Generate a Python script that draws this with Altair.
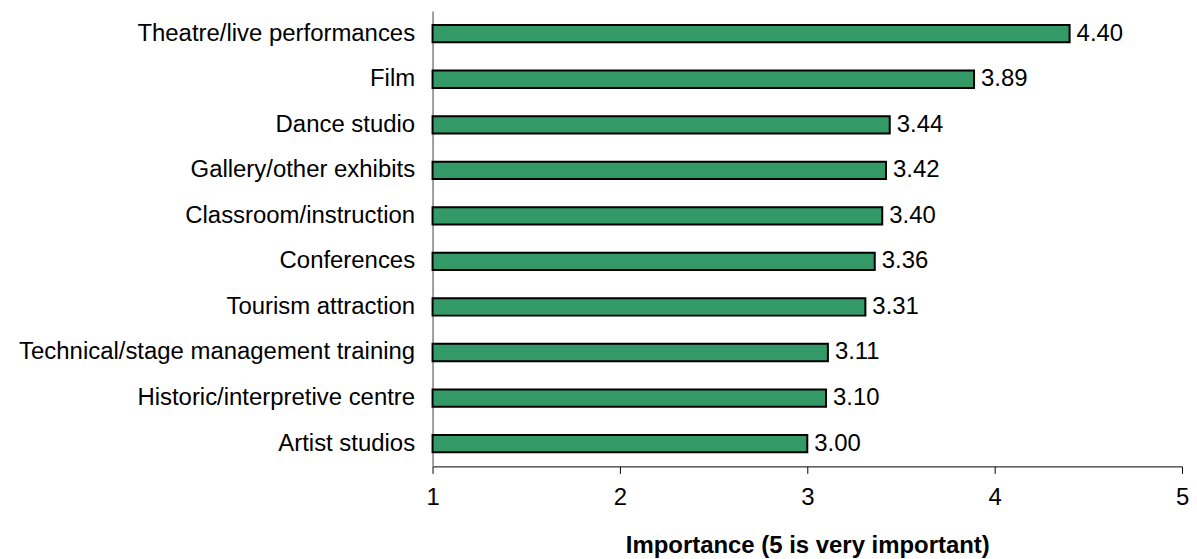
import altair as alt
import pandas as pd

categories = [
    "Theatre/live performances",
    "Film",
    "Dance studio",
    "Gallery/other exhibits",
    "Classroom/instruction",
    "Conferences",
    "Tourism attraction",
    "Technical/stage management training",
    "Historic/interpretive centre",
    "Artist studios",
]
values = [4.40, 3.89, 3.44, 3.42, 3.40, 3.36, 3.31, 3.11, 3.10, 3.00]
x_ticks = [1, 2, 3, 4, 5]

df = pd.DataFrame({"cat": categories, "val": values})
df["label"] = df["val"].map(lambda v: f"{v:.2f}")

FONT = "Liberation Sans"
FS = 24

base = alt.Chart(df).encode(
    y=alt.Y(
        "cat:N",
        sort=categories,
        title=None,
        scale=alt.Scale(paddingInner=0.62, paddingOuter=0.31),
        axis=alt.Axis(
            ticks=False,
            labelFont=FONT,
            labelFontSize=FS,
            labelColor="#000000",
            labelPadding=18,
            domainColor="#808080",
            domainWidth=1.5,
            labelLimit=600,
        ),
    )
)

bars = base.mark_bar(
    color="#339966", stroke="#000000", strokeWidth=2
).encode(
    x=alt.X(
        "val:Q",
        scale=alt.Scale(domain=[1, 5], zero=False, nice=False),
        title="Importance (5 is very important)",
        axis=alt.Axis(
            values=x_ticks,
            format="d",
            grid=False,
            labelFlush=False,
            tickColor="#000000",
            tickSize=7,
            domainColor="#000000",
            domainWidth=1,
            labelFont=FONT,
            labelFontSize=FS,
            labelColor="#000000",
            labelPadding=12,
            titleFont=FONT,
            titleFontSize=FS,
            titleFontWeight="bold",
            titleColor="#000000",
            titlePadding=24,
        ),
    ),
    x2=alt.datum(1),
)

text = base.mark_text(
    align="left", baseline="middle", dx=7, font=FONT, fontSize=FS, color="#000000"
).encode(x="val:Q", text="label:N")

chart = (
    (bars + text)
    .properties(width=752, height=457, padding={"top": 2, "left": 10, "right": 0, "bottom": 0})
    .configure_view(strokeWidth=0, stroke=None)
)

chart.save("out.html", embed_options={"renderer": "svg", "actions": False})
